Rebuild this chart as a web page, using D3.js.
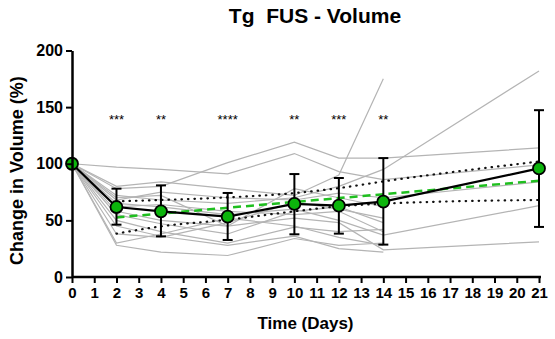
<!DOCTYPE html>
<html>
<head>
<meta charset="utf-8">
<script src="https://cdn.jsdelivr.net/npm/d3@7"></script>
<style>
  body { margin: 0; background: #fff; }
  svg { display: block; font-family: Arial, "Liberation Sans", sans-serif; }
</style>
</head>
<body>
<div id="chart"></div>
<script>
// days sampled
const days = [0, 2, 4, 7, 10, 12, 14, 21];

// individual animals (null = not measured)
const animals = [
  [100, 78, 80, 101, 119, 105, 105, 114],
  [100, 97, 95, 91, 109, 93, 86, 99],
  [100, 72, 68, 65, 70, 80, 95, 182],
  [100, 80, 84, 78, 72, 90, 175, null],
  [100, 68, 75, 70, 68, 74, 70, 84],
  [100, 65, 62, 55, 60, 50, 37, 63],
  [100, 58, 50, 45, 52, 48, 24, 31],
  [100, 55, 47, 38, 58, 62, 48, null],
  [100, 50, 40, 30, 44, 40, 42, null],
  [100, 45, 36, 28, 36, 25, 22, null],
  [100, 28, 22, 19, 34, 28, 30, null],
  [100, 38, 35, 48, 66, 60, 52, null],
  [100, 30, 38, 52, 45, 35, 28, null],
  [100, 62, 64, 58, 55, 58, 40, null],
  [100, 70, 72, 45, 78, 70, 62, null]
];

// group mean and error bar ends
const meanVals = [100, 61.8, 58, 53.3, 64.5, 63, 66.5, 95.9];
const errTop = [null, 78, 80.9, 74.2, 90.9, 87.4, 105, 147.3];
const errBot = [null, 46.2, 35.9, 32.7, 37.7, 38.3, 28.6, 44.2];

// regression fit and confidence band
const fitDays = [2, 21];
const fitVals = [52.6, 85];
const bandDays = [2, 4, 7, 10, 12, 14, 21];
const bandUpper = [66.8, 68, 70.3, 74.1, 78.5, 84.4, 102];
const bandLower = [38.3, 44.7, 50.6, 58, 62.4, 64.7, 68];

// significance marks
const starDays = [2, 4, 7, 10, 12, 14];
const starText = ['***', '**', '****', '**', '***', '**'];

const xTicks = d3.range(0, 22);
const yTicks = [0, 50, 100, 150, 200];

const width = 555, height = 339;
const svg = d3.select('#chart').append('svg')
  .attr('width', width)
  .attr('height', height);

const x = d3.scaleLinear().domain([0, 21]).range([72, 539]);
const y = d3.scaleLinear().domain([0, 200]).range([277, 50.5]);

// title
svg.append('text')
  .attr('x', 315).attr('y', 23)
  .attr('text-anchor', 'middle')
  .style('white-space', 'pre')
  .style('font-size', '21px').style('font-weight', 'bold')
  .text('Tg  FUS - Volume');

// gray individual lines
const line = d3.line()
  .defined(d => d[1] != null)
  .x(d => x(d[0])).y(d => y(d[1]));

svg.append('g')
  .selectAll('path')
  .data(animals)
  .join('path')
  .attr('d', a => line(days.map((d, i) => [d, a[i]])))
  .attr('fill', 'none')
  .attr('stroke', '#b4b4b4')
  .attr('stroke-width', 1.2);

// confidence band (dotted)
const band = d3.line().curve(d3.curveMonotoneX)
  .x(d => x(d[0])).y(d => y(d[1]));
[bandUpper, bandLower].forEach(b => {
  svg.append('path')
    .attr('d', band(bandDays.map((d, i) => [d, b[i]])))
    .attr('fill', 'none')
    .attr('stroke', '#111')
    .attr('stroke-width', 2.2)
    .attr('stroke-linecap', 'round')
    .attr('stroke-dasharray', '0.5,6');
});

// regression line (green dashed)
svg.append('path')
  .attr('d', d3.line().x(d => x(d[0])).y(d => y(d[1]))(fitDays.map((d, i) => [d, fitVals[i]])))
  .attr('fill', 'none')
  .attr('stroke', '#1fbf1f')
  .attr('stroke-width', 2.5)
  .attr('stroke-dasharray', '8,5');

// mean line
svg.append('path')
  .attr('d', d3.line().x(d => x(d[0])).y(d => y(d[1]))(days.map((d, i) => [d, meanVals[i]])))
  .attr('fill', 'none')
  .attr('stroke', '#000')
  .attr('stroke-width', 2.2);

// error bars
const eb = svg.append('g').attr('stroke', '#000').attr('stroke-width', 2);
days.forEach((d, i) => {
  if (errTop[i] == null) return;
  eb.append('line').attr('x1', x(d)).attr('x2', x(d)).attr('y1', y(errTop[i])).attr('y2', y(errBot[i]));
  [errTop[i], errBot[i]].forEach(v => {
    eb.append('line').attr('x1', x(d) - 5).attr('x2', x(d) + 5).attr('y1', y(v)).attr('y2', y(v));
  });
});

// mean points
svg.append('g')
  .selectAll('circle')
  .data(days)
  .join('circle')
  .attr('cx', d => x(d))
  .attr('cy', (d, i) => y(meanVals[i]))
  .attr('r', 6)
  .attr('fill', '#0cb40c')
  .attr('stroke', '#000')
  .attr('stroke-width', 1.8);

// stars
svg.append('g')
  .selectAll('text')
  .data(starDays)
  .join('text')
  .attr('x', d => x(d))
  .attr('y', y(135))
  .attr('text-anchor', 'middle')
  .style('font-size', '13px')
  .text((d, i) => starText[i]);

// axes
const xAxis = svg.append('g')
  .attr('transform', `translate(0,${y(0)})`)
  .call(d3.axisBottom(x).tickValues(xTicks).tickSize(6).tickPadding(4).tickSizeOuter(0));
const yAxis = svg.append('g')
  .attr('transform', `translate(${x(0)},0)`)
  .call(d3.axisLeft(y).tickValues(yTicks).tickSize(6).tickPadding(3).tickSizeOuter(0));

[xAxis, yAxis].forEach(a => {
  a.select('.domain').attr('stroke', '#000').attr('stroke-width', 2.5);
  a.selectAll('.tick line').attr('stroke', '#000').attr('stroke-width', 2);
  a.selectAll('.tick text')
    .attr('fill', '#000')
    .style('font-family', 'Arial, "Liberation Sans", sans-serif')
    .style('font-weight', 'bold');
});
xAxis.select('.domain').attr('d', `M${x(0)},0H${x(21) + 2}`);
xAxis.selectAll('.tick text').style('font-size', '15px');
yAxis.selectAll('.tick text').style('font-size', '16px');

// axis titles
svg.append('text')
  .attr('x', x(10.5)).attr('y', 329)
  .attr('text-anchor', 'middle')
  .style('font-size', '17px').style('font-weight', 'bold')
  .text('Time (Days)');

svg.append('text')
  .attr('transform', `translate(23,${y(94)}) rotate(-90)`)
  .attr('text-anchor', 'middle')
  .style('font-size', '18px').style('font-weight', 'bold')
  .text('Change in Volume (%)');
</script>
</body>
</html>
